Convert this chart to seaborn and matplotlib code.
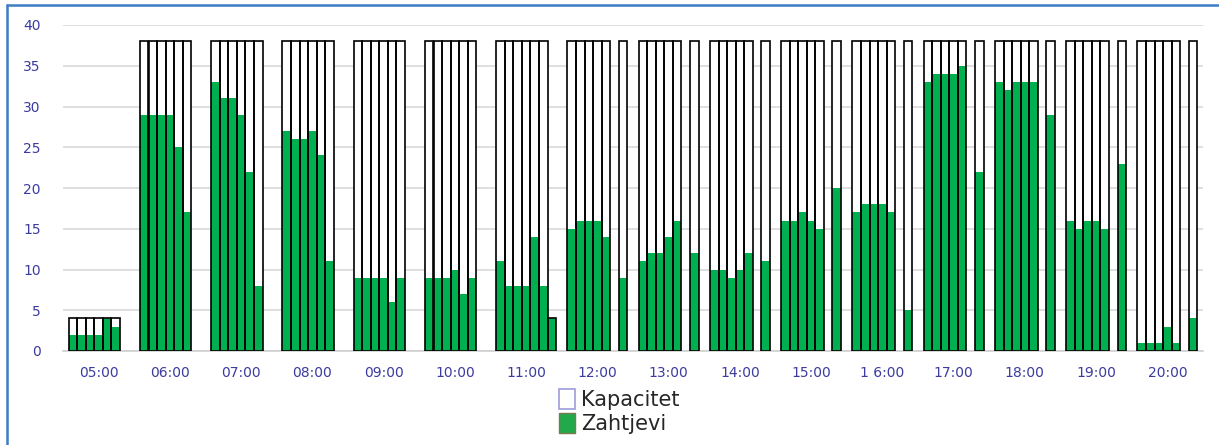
import numpy as np
import pandas as pd
import matplotlib
matplotlib.use("Agg")
import matplotlib.pyplot as plt
import matplotlib.patches as mpatches
import seaborn as sns

sns.set_theme(style="white")
plt.rcParams['font.family'] = ['DejaVu Sans']

# Data: 16 hours, 7 ten-minute slots each (NaN = no slot)
hours = ["05:00", "06:00", "07:00", "08:00", "09:00", "10:00", "11:00", "12:00",
         "13:00", "14:00", "15:00", "1 6:00", "17:00", "18:00", "19:00", "20:00"]
n = np.nan
capacity = [
    [4, 4, 4, 4, 4, 4, n],
    [38, 38, 38, 38, 38, 38, n],
    [38, 38, 38, 38, 38, 38, n],
    [38, 38, 38, 38, 38, 38, n],
    [38, 38, 38, 38, 38, 38, n],
    [38, 38, 38, 38, 38, 38, n],
    [38, 38, 38, 38, 38, 38, 4],
    [38, 38, 38, 38, 38, n, 38],
    [38, 38, 38, 38, 38, n, 38],
    [38, 38, 38, 38, 38, n, 38],
    [38, 38, 38, 38, 38, n, 38],
    [38, 38, 38, 38, 38, n, 38],
    [38, 38, 38, 38, 38, n, 38],
    [38, 38, 38, 38, 38, n, 38],
    [38, 38, 38, 38, 38, n, 38],
    [38, 38, 38, 38, 38, n, 38],
]
demand = [
    [2, 2, 2, 2, 4, 3, n],
    [29, 29, 29, 29, 25, 17, n],
    [33, 31, 31, 29, 22, 8, n],
    [27, 26, 26, 27, 24, 11, n],
    [9, 9, 9, 9, 6, 9, n],
    [9, 9, 9, 10, 7, 9, n],
    [11, 8, 8, 8, 14, 8, 4],
    [15, 16, 16, 16, 14, n, 9],
    [11, 12, 12, 14, 16, n, 12],
    [10, 10, 9, 10, 12, n, 11],
    [16, 16, 17, 16, 15, n, 20],
    [17, 18, 18, 18, 17, n, 5],
    [33, 34, 34, 34, 35, n, 22],
    [33, 32, 33, 33, 33, n, 29],
    [16, 15, 16, 16, 15, n, 23],
    [1, 1, 1, 3, 1, n, 4],
]
slots = ["s0", "s1", "s2", "s3", "s4", "s5", "s6"]

rows = []
for h, cap_row, dem_row in zip(hours, capacity, demand):
    for s, c, d in zip(slots, cap_row, dem_row):
        rows.append({"hour": h, "slot": s, "cap": c, "dem": d})
df = pd.DataFrame(rows)

GREEN = "#00B050"
LABEL = "#3B3BA0"

fig = plt.figure(figsize=(12.19, 4.45), dpi=100)
ax = fig.add_axes([63 / 1219, 1 - 351 / 445, (1203 - 63) / 1219, 326 / 445])

bw = 0.84
common = dict(data=df, x="hour", hue="slot", order=hours, hue_order=slots,
              saturation=1, width=bw, errorbar=None, legend=False, ax=ax)
# white capacity bars, green demand bars, then capacity outlines on top
sns.barplot(y="cap", palette=["white"] * 7, linewidth=0, zorder=2, **common)
sns.barplot(y="dem", palette=[GREEN] * 7, linewidth=0, zorder=3, **common)
sns.barplot(y="cap", palette=["black"] * 7, fill=False, linewidth=1.2, zorder=4, **common)

ax.set_ylim(0, 40)
ax.set_xlim(-0.5, len(hours) - 0.5)
ax.set_yticks(range(0, 41, 5))
ax.yaxis.grid(True, color="#d9d9d9", linewidth=1.2, zorder=0)
ax.set_axisbelow(True)
ax.set_xlabel("")
ax.set_ylabel("")
for side in ["top", "right", "left"]:
    ax.spines[side].set_visible(False)
ax.spines["bottom"].set_color("#d0d0d0")
ax.spines["bottom"].set_linewidth(1.2)

ax.set_xticks(range(len(hours)))
ax.set_xticklabels(hours)
ax.set_xticks(np.arange(-0.5, len(hours), 1.0), minor=True)
ax.tick_params(axis="x", which="major", length=0, pad=11, labelsize=10, labelcolor=LABEL)
ax.tick_params(axis="x", which="minor", length=12, direction="inout", color="#d0d0d0", width=1.2)
ax.tick_params(axis="y", length=0, pad=16, labelsize=10, labelcolor=LABEL)

# legend below the plot
handles = [
    mpatches.Patch(facecolor="white", edgecolor="#9c9cdc", linewidth=1.2, label="Kapacitet"),
    mpatches.Patch(facecolor="#22AA4A", edgecolor="#7a7a50", linewidth=1.0, label="Zahtjevi"),
]
fig.legend(handles=handles, loc="center", bbox_to_anchor=(0.508, 0.075), frameon=False,
           fontsize=15, handlelength=0.8, handleheight=1.1, handletextpad=0.3,
           labelspacing=0.15, borderpad=0.2)

# blue frame (top and left)
fig.add_artist(plt.Line2D([7 / 1219, 7 / 1219], [0, 1 - 5 / 445], color="#3C7DC4", linewidth=1.8,
                          transform=fig.transFigure))
fig.add_artist(plt.Line2D([7 / 1219, 1], [1 - 5 / 445, 1 - 5 / 445], color="#3C7DC4", linewidth=1.8,
                          transform=fig.transFigure))

fig.savefig("out.png", dpi=100)
